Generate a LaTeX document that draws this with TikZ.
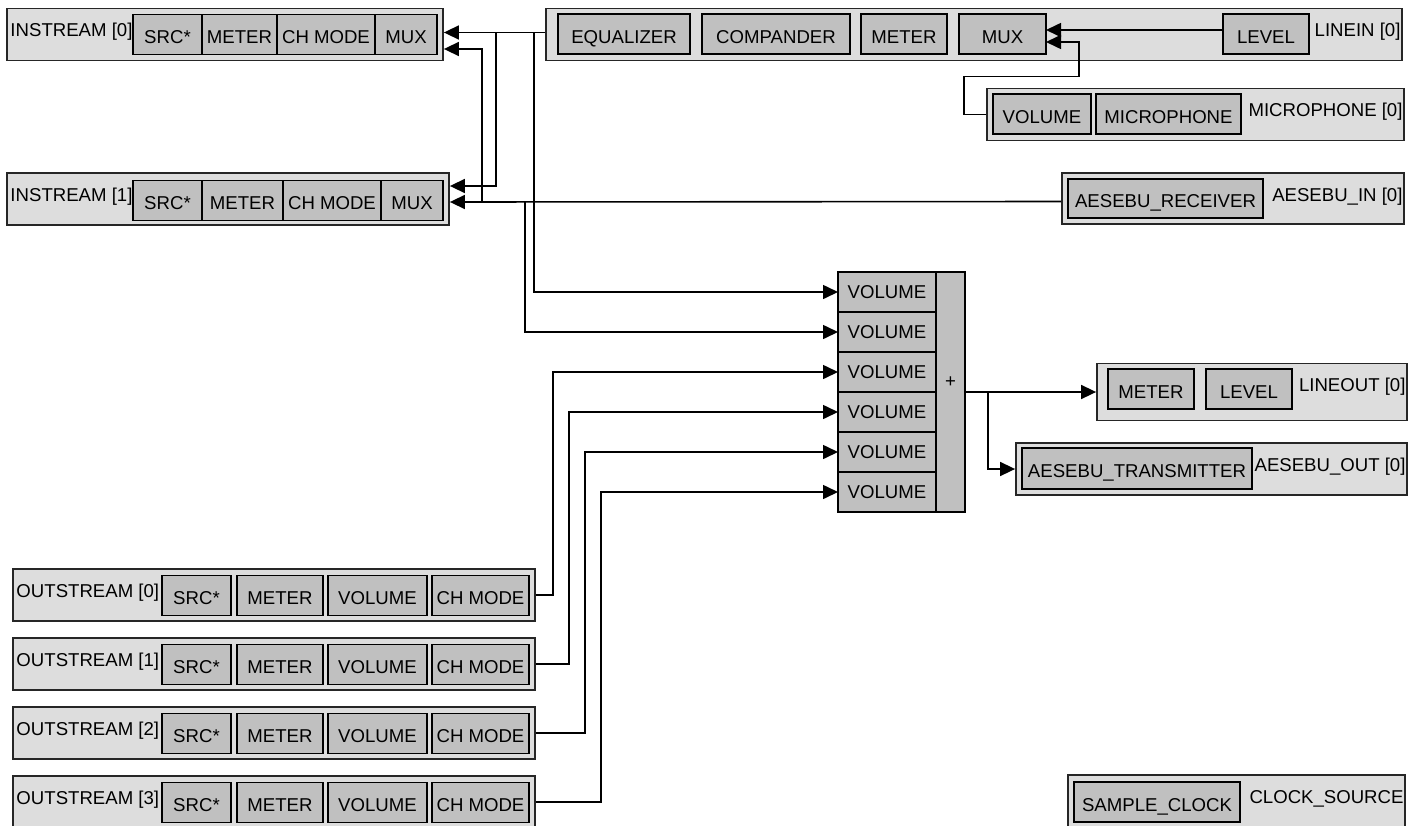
\documentclass[tikz,border=0pt]{standalone}
\usepackage{fontspec}
\setmainfont{Liberation Sans}
\usepackage{tikz}
\usetikzlibrary{positioning,arrows.meta}
\definecolor{panelgray}{RGB}{221,221,221}
\definecolor{blockgray}{RGB}{192,192,192}

\begin{document}
\begin{tikzpicture}[x=0.5pt,y=-0.5pt,font=\fontsize{9.3pt}{11pt}\selectfont]
\tikzstyle{panel}=[rectangle, draw=black!85, line width=0.9pt, fill=panelgray, inner sep=0pt, minimum height=26pt]
\tikzstyle{block}=[rectangle, draw=black, line width=0.8pt, fill=blockgray, inner sep=0pt, outer sep=0pt, minimum height=20pt, text height=9pt, text depth=0pt]
\tikzstyle{mixin}=[block, minimum width=49pt, text height=6.8pt]
\tikzstyle{connect}=[-{Triangle[length=7.5pt,width=7pt]}, thick]
\tikzstyle{rtag}=[inner sep=0pt, anchor=base east, xshift=-1pt, yshift=-14.5pt]
\tikzstyle{ltag}=[inner sep=0pt, anchor=base west, xshift=2pt, yshift=-14.5pt]
\useasboundingbox (0,0) rectangle (1414,825);

  % input streams
  \node[panel, minimum width=218pt, label={[ltag]north west:INSTREAM [0]}] (in0) at (225,34.5) {};
  \node[block, minimum width=34.5pt] (in0src) at (167.5,34.5) {SRC*};
  \node[block, minimum width=37.5pt, right=0pt of in0src] (in0met) {METER};
  \node[block, minimum width=49pt, right=0pt of in0met] (in0chm) {CH MODE};
  \node[block, minimum width=31pt, right=0pt of in0chm] (in0mux) {MUX};

  \node[panel, minimum width=221pt, label={[ltag]north west:INSTREAM [1]}] (in1) at (228,199) {};
  \node[block, minimum width=34.5pt] (in1src) at (167.5,200.5) {SRC*};
  \node[block, minimum width=40.5pt, right=0pt of in1src] (in1met) {METER};
  \node[block, minimum width=49pt, right=0pt of in1met] (in1chm) {CH MODE};
  \node[block, minimum width=31pt, right=0pt of in1chm] (in1mux) {MUX};

  % sources
  \node[panel, minimum width=428pt, label={[rtag]north east:LINEIN [0]}] (lin) at (974,34.5) {};
  \node[block, minimum width=66pt] (lineq) at (624,34) {EQUALIZER};
  \node[block, minimum width=74pt, right=6pt of lineq] (lincmp) {COMPANDER};
  \node[block, minimum width=43pt, right=5.5pt of lincmp] (linmet) {METER};
  \node[block, minimum width=43.5pt, right=6pt of linmet] (linmux) {MUX};
  \node[block, minimum width=43pt] (linlev) at (1266,34) {LEVEL};

  \node[panel, minimum width=208.5pt, label={[rtag]north east:MICROPHONE [0]}] (mic) at (1195.5,114.5) {};
  \node[block, minimum width=49pt] (micvol) at (1042,114) {VOLUME};
  \node[block, minimum width=72.5pt, right=2.5pt of micvol] (micmic) {MICROPHONE};

  \node[panel, minimum width=171pt, minimum height=25.5pt, label={[rtag]north east:AESEBU\_IN [0]}] (aesin) at (1233,198.5) {};
  \node[block, minimum width=97.5pt, minimum height=19.5pt] (aesrx) at (1165.5,198.5) {AESEBU\_RECEIVER};

  % mixer
  \node[mixin] (vol1) at (887,292) {VOLUME};
  \node[mixin, below=0pt of vol1] (vol2) {VOLUME};
  \node[mixin, below=0pt of vol2] (vol3) {VOLUME};
  \node[mixin, below=0pt of vol3] (vol4) {VOLUME};
  \node[mixin, below=0pt of vol4] (vol5) {VOLUME};
  \node[mixin, below=0pt of vol5] (vol6) {VOLUME};
  \node[block, minimum width=14.5pt, minimum height=120pt, text height=3pt, text depth=7.6pt] (sum) at (950.5,392) {+};

  % sinks
  \node[panel, minimum width=155pt, minimum height=28.5pt, label={[rtag]north east:LINEOUT [0]}] (lout) at (1252,392) {};
  \node[block, minimum width=43pt] (loutmet) at (1151,389) {METER};
  \node[block, minimum width=43pt, right=6pt of loutmet] (loutlev) {LEVEL};

  \node[panel, minimum width=195.5pt, label={[rtag]north east:AESEBU\_OUT [0]}] (aesout) at (1211.5,469) {};
  \node[block, minimum width=115pt, minimum height=20.5pt] (aestx) at (1137,468.5) {AESEBU\_TRANSMITTER};

  % output streams
  \node[panel, minimum width=261pt, label={[ltag]north west:OUTSTREAM [0]}] (out0) at (274,595) {};
  \node[block, minimum width=34.5pt] (out0src) at (196.5,595.5) {SRC*};
  \node[block, minimum width=43pt, right=3pt of out0src] (out0met) {METER};
  \node[block, minimum width=49.5pt, right=2.5pt of out0met] (out0vol) {VOLUME};
  \node[block, minimum width=48.5pt, right=2.5pt of out0vol] (out0chm) {CH MODE};

  \node[panel, minimum width=261pt, label={[ltag]north west:OUTSTREAM [1]}] (out1) at (274,664) {};
  \node[block, minimum width=34.5pt] (out1src) at (196.5,664.5) {SRC*};
  \node[block, minimum width=43pt, right=3pt of out1src] (out1met) {METER};
  \node[block, minimum width=49.5pt, right=2.5pt of out1met] (out1vol) {VOLUME};
  \node[block, minimum width=48.5pt, right=2.5pt of out1vol] (out1chm) {CH MODE};

  \node[panel, minimum width=261pt, label={[ltag]north west:OUTSTREAM [2]}] (out2) at (274,733) {};
  \node[block, minimum width=34.5pt] (out2src) at (196.5,733.5) {SRC*};
  \node[block, minimum width=43pt, right=3pt of out2src] (out2met) {METER};
  \node[block, minimum width=49.5pt, right=2.5pt of out2met] (out2vol) {VOLUME};
  \node[block, minimum width=48.5pt, right=2.5pt of out2vol] (out2chm) {CH MODE};

  \node[panel, minimum width=261pt, label={[ltag]north west:OUTSTREAM [3]}] (out3) at (274,802) {};
  \node[block, minimum width=34.5pt] (out3src) at (196.5,802.5) {SRC*};
  \node[block, minimum width=43pt, right=3pt of out3src] (out3met) {METER};
  \node[block, minimum width=49.5pt, right=2.5pt of out3met] (out3vol) {VOLUME};
  \node[block, minimum width=48.5pt, right=2.5pt of out3vol] (out3chm) {CH MODE};

  % clock
  \node[panel, minimum width=168.5pt, label={[rtag]north east:CLOCK\_SOURCE}] (clk) at (1236.5,801) {};
  \node[block, minimum width=83pt] (smpclk) at (1157,802) {SAMPLE\_CLOCK};

  % routing
  \draw[connect] ([yshift=2pt]linlev.west) -- ([yshift=2pt]linmux.east);
  \draw[connect] (mic.west) -- ++(-11pt,0) |- ++(57.5pt,19pt) |- ([yshift=-4pt]linmux.east);
  \draw[connect] ([yshift=1pt]lin.west) -- ([yshift=1pt]in0.east);
  \draw[connect] ([xshift=26pt,yshift=1pt]in0.east) |- ([yshift=6.5pt]in1.east);
  \draw[connect] ([xshift=-5.5pt,yshift=1pt]lin.west) |- (vol1.west);
  \draw[connect] ([yshift=-1.5pt]aesin.west) -- ([yshift=-1.5pt]in1.east);
  \draw[connect] ([xshift=16pt,yshift=-1.5pt]in1.east) |- ([yshift=-7.25pt]in0.east);
  \draw[connect] ([xshift=37.5pt,yshift=-1.5pt]in1.east) |- (vol2.west);
  \draw[connect] (out0.east) -- ++(8.5pt,0) |- (vol3.west);
  \draw[connect] (out1.east) -- ++(16.5pt,0) |- (vol4.west);
  \draw[connect] (out2.east) -- ++(24.5pt,0) |- (vol5.west);
  \draw[connect] (out3.east) -- ++(32.5pt,0) |- (vol6.west);
  \draw[connect] (sum.east) -- (lout.west |- sum.east);
  \draw[connect] ([xshift=11.5pt]sum.east) |- (aesout.west);
\end{tikzpicture}
\end{document}
